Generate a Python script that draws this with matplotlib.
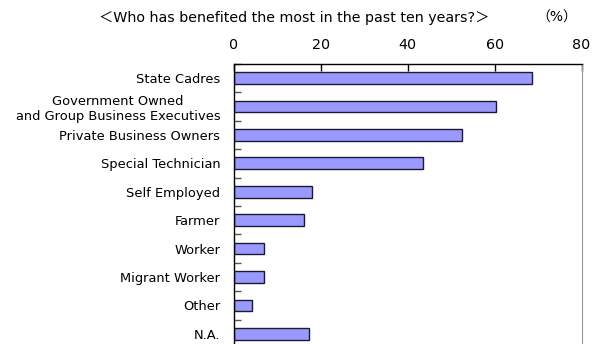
import matplotlib
matplotlib.use('Agg')
import matplotlib.pyplot as plt
import numpy as np

plt.rcParams['font.family'] = ['DejaVu Sans', 'Noto Sans CJK JP']

# survey answers, top to bottom
categories = ['State Cadres',
              'Government Owned\nand Group Business Executives',
              'Private Business Owners',
              'Special Technician',
              'Self Employed',
              'Farmer',
              'Worker',
              'Migrant Worker',
              'Other',
              'N.A.']
shares = [68.7, 60.4, 52.5, 43.5, 17.9, 16.1, 6.9, 6.9, 4.2, 17.2]
x_ticks = [0, 20, 40, 60, 80]

fig = plt.figure(figsize=(5.94, 3.44), dpi=100)
ax = fig.add_axes([0.394, -0.0116, 0.585, 0.826])

y = np.arange(len(categories))
ax.barh(y, shares, height=0.41, color='#9999FF', edgecolor='#1a1a33',
        linewidth=1.0)

ax.set_xlim(0, 80)
ax.set_ylim(len(categories) - 0.5, -0.5)
ax.xaxis.tick_top()
ax.set_xticks(x_ticks)
ax.tick_params(axis='x', direction='in', length=5, pad=8.5, labelsize=10.3,
               width=1)
ax.set_yticks(y)
ax.set_yticklabels(categories, fontsize=9.4, multialignment='center',
                   linespacing=1.25)
ax.tick_params(axis='y', which='major', length=0, pad=10)
ax.set_yticks(np.arange(len(categories)) - 0.5, minor=True)
ax.tick_params(axis='y', which='minor', direction='in', length=5,
               color='#555555', width=1)

ax.spines['right'].set_color('#999999')
ax.spines['bottom'].set_visible(False)
ax.spines['top'].set_linewidth(1)
ax.spines['left'].set_linewidth(1)

fig.text(0.496, 0.948, '＜Who has benefited the most in the past ten years?＞',
         ha='center', va='center', fontsize=10.3)
fig.text(0.938, 0.948, '（%）', ha='center', va='center', fontsize=10)

fig.savefig('out.png', dpi=100)
